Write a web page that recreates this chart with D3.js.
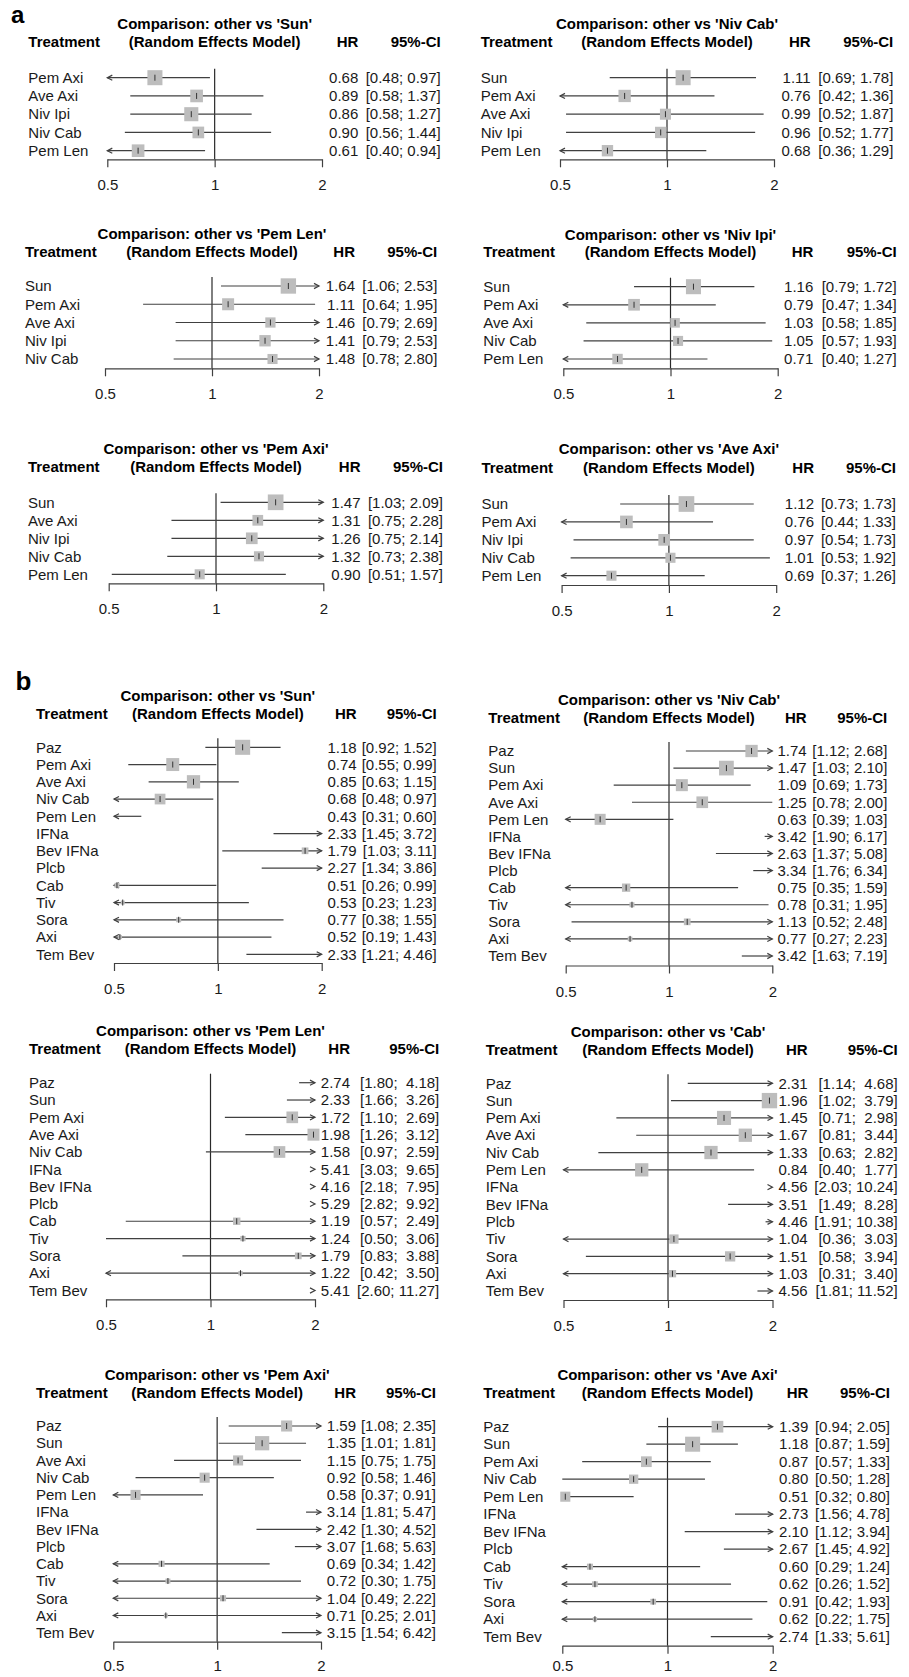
<!DOCTYPE html>
<html><head><meta charset="utf-8">
<script src="https://cdn.jsdelivr.net/npm/d3@7"></script>
<style>
body{margin:0;background:#fff}
svg{display:block;background:#fff}
text{font-family:"Liberation Sans",Arial,Helvetica,sans-serif;fill:#1a1a1a}
</style>
</head><body>
<svg id="c" width="909" height="1677"></svg>
<script>
// ---------------- DATA ----------------
const tickVals = [0.5, 1, 2];
const tickLabels = ["0.5", "1", "2"];

// Panel a
const a1Ref = "Sun";
const a1Treat = ["Pem Axi","Ave Axi","Niv Ipi","Niv Cab","Pem Len"];
const a1HR = [0.68,0.89,0.86,0.90,0.61];
const a1Lo = [0.48,0.58,0.58,0.56,0.40];
const a1Hi = [0.97,1.37,1.27,1.44,0.94];
const a1W  = [0.94,0.79,0.88,0.73,0.79];

const a2Ref = "Niv Cab";
const a2Treat = ["Sun","Pem Axi","Ave Axi","Niv Ipi","Pem Len"];
const a2HR = [1.11,0.76,0.99,0.96,0.68];
const a2Lo = [0.69,0.42,0.52,0.52,0.36];
const a2Hi = [1.78,1.36,1.87,1.77,1.29];
const a2W  = [0.94,0.77,0.69,0.71,0.71];

const a3Ref = "Pem Len";
const a3Treat = ["Sun","Pem Axi","Ave Axi","Niv Ipi","Niv Cab"];
const a3HR = [1.64,1.11,1.46,1.41,1.48];
const a3Lo = [1.06,0.64,0.79,0.79,0.78];
const a3Hi = [2.53,1.95,2.69,2.53,2.80];
const a3W  = [0.96,0.75,0.64,0.71,0.63];

const a4Ref = "Niv Ipi";
const a4Treat = ["Sun","Pem Axi","Ave Axi","Niv Cab","Pem Len"];
const a4HR = [1.16,0.79,1.03,1.05,0.71];
const a4Lo = [0.79,0.47,0.58,0.57,0.40];
const a4Hi = [1.72,1.34,1.85,1.93,1.27];
const a4W  = [0.94,0.73,0.60,0.63,0.65];

const a5Ref = "Pem Axi";
const a5Treat = ["Sun","Ave Axi","Niv Ipi","Niv Cab","Pem Len"];
const a5HR = [1.47,1.31,1.26,1.32,0.90];
const a5Lo = [1.03,0.75,0.75,0.73,0.51];
const a5Hi = [2.09,2.28,2.14,2.38,1.57];
const a5W  = [0.98,0.67,0.73,0.63,0.63];

const a6Ref = "Ave Axi";
const a6Treat = ["Sun","Pem Axi","Niv Ipi","Niv Cab","Pem Len"];
const a6HR = [1.12,0.76,0.97,1.01,0.69];
const a6Lo = [0.73,0.44,0.54,0.53,0.37];
const a6Hi = [1.73,1.33,1.73,1.92,1.26];
const a6W  = [0.98,0.79,0.73,0.63,0.63];

// Panel b
const b1Ref = "Sun";
const b1Treat = ["Paz","Pem Axi","Ave Axi","Niv Cab","Pem Len","IFNa","Bev IFNa","Plcb","Cab","Tiv","Sora","Axi","Tem Bev"];
const b1HR = [1.18,0.74,0.85,0.68,0.43,2.33,1.79,2.27,0.51,0.53,0.77,0.52,2.33];
const b1Lo = [0.92,0.55,0.63,0.48,0.31,1.45,1.03,1.34,0.26,0.23,0.38,0.19,1.21];
const b1Hi = [1.52,0.99,1.15,0.97,0.60,3.72,3.11,3.86,0.99,1.23,1.55,1.43,4.46];
const b1W  = [0.94,0.81,0.83,0.67,null,null,0.42,null,0.31,0.25,0.31,0.25,null];

const b2Ref = "Niv Cab";
const b2Treat = ["Paz","Sun","Pem Axi","Ave Axi","Pem Len","IFNa","Bev IFNa","Plcb","Cab","Tiv","Sora","Axi","Tem Bev"];
const b2HR = [1.74,1.47,1.09,1.25,0.63,3.42,2.63,3.34,0.75,0.78,1.13,0.77,3.42];
const b2Lo = [1.12,1.03,0.69,0.78,0.39,1.90,1.37,1.76,0.35,0.31,0.52,0.27,1.63];
const b2Hi = [2.68,2.10,1.73,2.00,1.03,6.17,5.08,6.34,1.59,1.95,2.48,2.23,7.19];
const b2W  = [0.77,0.92,0.75,0.73,0.69,null,null,null,0.52,0.31,0.42,0.29,null];

const b3Ref = "Pem Len";
const b3Treat = ["Paz","Sun","Pem Axi","Ave Axi","Niv Cab","IFNa","Bev IFNa","Plcb","Cab","Tiv","Sora","Axi","Tem Bev"];
const b3HR = [2.74,2.33,1.72,1.98,1.58,5.41,4.16,5.29,1.19,1.24,1.79,1.22,5.41];
const b3Lo = [1.80,1.66,1.10,1.26,0.97,3.03,2.18,2.82,0.57,0.50,0.83,0.42,2.60];
const b3Hi = [4.18,3.26,2.69,3.12,2.59,9.65,7.95,9.92,2.49,3.06,3.88,3.50,11.27];
const b3W  = [null,null,0.73,0.75,0.73,null,null,null,0.46,0.33,0.42,0.27,null];

const b4Ref = "Cab";
const b4Treat = ["Paz","Sun","Pem Axi","Ave Axi","Niv Cab","Pem Len","IFNa","Bev IFNa","Plcb","Tiv","Sora","Axi","Tem Bev"];
const b4HR = [2.31,1.96,1.45,1.67,1.33,0.84,4.56,3.51,4.46,1.04,1.51,1.03,4.56];
const b4Lo = [1.14,1.02,0.71,0.81,0.63,0.40,2.03,1.49,1.91,0.36,0.58,0.31,1.81];
const b4Hi = [4.68,3.79,2.98,3.44,2.82,1.77,10.24,8.28,10.38,3.03,3.94,3.40,11.52];
const b4W  = [null,0.96,0.88,0.83,0.83,0.83,null,null,null,0.58,0.64,0.46,null];

const b5Ref = "Pem Axi";
const b5Treat = ["Paz","Sun","Ave Axi","Niv Cab","Pem Len","IFNa","Bev IFNa","Plcb","Cab","Tiv","Sora","Axi","Tem Bev"];
const b5HR = [1.59,1.35,1.15,0.92,0.58,3.14,2.42,3.07,0.69,0.72,1.04,0.71,3.15];
const b5Lo = [1.08,1.01,0.75,0.58,0.37,1.81,1.30,1.68,0.34,0.30,0.49,0.25,1.54];
const b5Hi = [2.35,1.81,1.75,1.46,0.91,5.47,4.52,5.63,1.42,1.75,2.22,2.01,6.42];
const b5W  = [0.69,0.89,0.63,0.63,0.63,null,null,null,0.38,0.31,0.38,0.25,null];

const b6Ref = "Ave Axi";
const b6Treat = ["Paz","Sun","Pem Axi","Niv Cab","Pem Len","IFNa","Bev IFNa","Plcb","Cab","Tiv","Sora","Axi","Tem Bev"];
const b6HR = [1.39,1.18,0.87,0.80,0.51,2.73,2.10,2.67,0.60,0.62,0.91,0.62,2.74];
const b6Lo = [0.94,0.87,0.57,0.50,0.32,1.56,1.12,1.45,0.29,0.26,0.42,0.22,1.33];
const b6Hi = [2.05,1.59,1.33,1.28,0.80,4.78,3.94,4.92,1.24,1.52,1.93,1.75,5.61];
const b6W  = [0.73,0.94,0.67,0.58,0.63,null,null,null,0.38,0.36,0.36,0.27,null];

// ---------------- LAYOUT (pixel positions) ----------------
const layouts = {
  a1:{x05:107.3,x2:322,labelX:28.3,hrR:358.3,ciR:440.7,titleY:23.3,headerY:41.7,row0:77.7,rowN:150.7,axisY:159.3,pad:12.5},
  a2:{x05:560,x2:774,labelX:480.7,hrR:810.7,ciR:893.3,titleY:23.3,headerY:41.7,row0:77.7,rowN:150.7,axisY:159.3,pad:12.5},
  a3:{x05:105,x2:319,labelX:25,hrR:355,ciR:437.3,titleY:233.3,headerY:251.7,row0:286,rowN:359,axisY:368.3,pad:12.5},
  a4:{x05:563.3,x2:777.7,labelX:483.3,hrR:813.3,ciR:896.7,titleY:235,headerY:251.7,row0:286.7,rowN:359,axisY:368.3,pad:12.5},
  a5:{x05:108.7,x2:323.3,labelX:27.9,hrR:360.5,ciR:443,titleY:448.3,headerY:466.7,row0:502.3,rowN:574.3,axisY:583.3,pad:12.5},
  a6:{x05:561.6,x2:776.2,labelX:481.4,hrR:814,ciR:896,titleY:449,headerY:467.3,row0:504,rowN:575.7,axisY:585,pad:12.5},
  b1:{x05:114,x2:321.7,labelX:36,hrR:356.7,ciR:436.7,titleY:696,headerY:713.3,row0:747.3,rowN:954.3,axisY:963,pad:12.5},
  b2:{x05:565.7,x2:772.3,labelX:488.3,hrR:806.7,ciR:887.3,titleY:700,headerY:717.3,row0:751,rowN:956,axisY:965.5,pad:12.5},
  b3:{x05:106,x2:315,labelX:29,hrR:350,ciR:439.3,titleY:1030.7,headerY:1048.3,row0:1082.7,rowN:1290.5,axisY:1299.3,pad:12.5},
  b4:{x05:563.5,x2:772.5,labelX:485.7,hrR:807.7,ciR:897.7,titleY:1031.7,headerY:1049.3,row0:1083.3,rowN:1291,axisY:1300,pad:12.5},
  b5:{x05:113.3,x2:321,labelX:36,hrR:356,ciR:436,titleY:1375,headerY:1392.3,row0:1426,rowN:1632.7,axisY:1641.7,pad:10.5},
  b6:{x05:562.3,x2:772.7,labelX:483.3,hrR:808.3,ciR:890,titleY:1375,headerY:1392.3,row0:1426.7,rowN:1636.7,axisY:1645.7,pad:7}
};

const panels = [
  {ref:a1Ref,treat:a1Treat,hr:a1HR,lo:a1Lo,hi:a1Hi,w:a1W,L:layouts.a1},
  {ref:a2Ref,treat:a2Treat,hr:a2HR,lo:a2Lo,hi:a2Hi,w:a2W,L:layouts.a2},
  {ref:a3Ref,treat:a3Treat,hr:a3HR,lo:a3Lo,hi:a3Hi,w:a3W,L:layouts.a3},
  {ref:a4Ref,treat:a4Treat,hr:a4HR,lo:a4Lo,hi:a4Hi,w:a4W,L:layouts.a4},
  {ref:a5Ref,treat:a5Treat,hr:a5HR,lo:a5Lo,hi:a5Hi,w:a5W,L:layouts.a5},
  {ref:a6Ref,treat:a6Treat,hr:a6HR,lo:a6Lo,hi:a6Hi,w:a6W,L:layouts.a6},
  {ref:b1Ref,treat:b1Treat,hr:b1HR,lo:b1Lo,hi:b1Hi,w:b1W,L:layouts.b1},
  {ref:b2Ref,treat:b2Treat,hr:b2HR,lo:b2Lo,hi:b2Hi,w:b2W,L:layouts.b2},
  {ref:b3Ref,treat:b3Treat,hr:b3HR,lo:b3Lo,hi:b3Hi,w:b3W,L:layouts.b3},
  {ref:b4Ref,treat:b4Treat,hr:b4HR,lo:b4Lo,hi:b4Hi,w:b4W,L:layouts.b4},
  {ref:b5Ref,treat:b5Treat,hr:b5HR,lo:b5Lo,hi:b5Hi,w:b5W,L:layouts.b5},
  {ref:b6Ref,treat:b6Treat,hr:b6HR,lo:b6Lo,hi:b6Hi,w:b6W,L:layouts.b6}
];

// ---------------- DRAW ----------------
const svg = d3.select("#c");
svg.append("rect").attr("width",909).attr("height",1677).attr("fill","#fff");
const FS = 15;
const lineCol = "#404040";
const f2 = d3.format(".2f");
const sizeScale = d3.scaleLinear().domain([0,1]).range([0,16]);

svg.append("text").attr("x",11).attr("y",23).attr("font-size",24).attr("font-weight","bold").style("fill","#000").text("a");
svg.append("text").attr("x",15.5).attr("y",690).attr("font-size",26).attr("font-weight","bold").style("fill","#000").text("b");

function arrowHead(g, x, y, dir){
  const len = 5, hw = 2.6;
  g.append("path")
    .attr("d", `M${x - dir*len},${y-hw} L${x},${y} L${x - dir*len},${y+hw}`)
    .attr("fill","none").attr("stroke",lineCol).attr("stroke-width",1.2);
}

function drawPanel(p){
  const L = p.L;
  const g = svg.append("g");
  const x = d3.scaleLog().domain([tickVals[0], tickVals[tickVals.length-1]]).range([L.x05, L.x2]);
  const n = p.treat.length;
  const y = d3.scaleLinear().domain([0, n-1]).range([L.row0, L.rowN]);
  const xmin = x.domain()[0], xmax = x.domain()[1];
  const xc = x(1);

  // headers
  g.append("text").attr("x",xc).attr("y",L.titleY).attr("dy","0.35em").attr("text-anchor","middle")
    .attr("font-size",FS).attr("font-weight","bold").style("fill","#000")
    .text(`Comparison: other vs '${p.ref}'`);
  g.append("text").attr("x",xc).attr("y",L.headerY).attr("dy","0.35em").attr("text-anchor","middle")
    .attr("font-size",FS).attr("font-weight","bold").style("fill","#000")
    .text("(Random Effects Model)");
  g.append("text").attr("x",L.labelX).attr("y",L.headerY).attr("dy","0.35em")
    .attr("font-size",FS).attr("font-weight","bold").style("fill","#000").text("Treatment");
  g.append("text").attr("x",L.hrR).attr("y",L.headerY).attr("dy","0.35em").attr("text-anchor","end")
    .attr("font-size",FS).attr("font-weight","bold").style("fill","#000").text("HR");
  g.append("text").attr("x",L.ciR).attr("y",L.headerY).attr("dy","0.35em").attr("text-anchor","end")
    .attr("font-size",FS).attr("font-weight","bold").style("fill","#000").text("95%-CI");

  // reference line
  g.append("line").attr("x1",xc).attr("x2",xc).attr("y1",L.row0-9).attr("y2",L.axisY)
    .attr("stroke","#2a2a2a").attr("stroke-width",1.2);

  // axis
  const axis = d3.axisBottom(x).tickValues(tickVals).tickFormat((d,i)=>tickLabels[i])
    .tickSizeInner(8).tickSizeOuter(0).tickPadding(L.pad);
  const axg = g.append("g").attr("transform",`translate(0,${L.axisY})`).call(axis);
  axg.attr("font-family",null).attr("font-size",null);
  axg.select(".domain").attr("stroke",lineCol).attr("stroke-width",1.2);
  axg.selectAll(".tick line").attr("stroke",lineCol).attr("stroke-width",1.2);
  axg.selectAll(".tick text").attr("font-size",FS).style("fill","#1a1a1a").attr("fill",null);

  const pad10 = p.hi.some(v=>v>=10);
  const fmtHi = v => (pad10 && v<10 ? " " : "") + f2(v);

  p.treat.forEach((t,i)=>{
    const yy = y(i);
    const lo = p.lo[i], hi = p.hi[i], hr = p.hr[i], w = p.w[i];
    g.append("text").attr("x",L.labelX).attr("y",yy).attr("dy","0.35em").attr("font-size",FS).text(t);
    g.append("text").attr("x",L.hrR).attr("y",yy).attr("dy","0.35em").attr("text-anchor","end")
      .attr("font-size",FS).text(f2(hr));
    g.append("text").attr("x",L.ciR).attr("y",yy).attr("dy","0.35em").attr("text-anchor","end")
      .attr("font-size",FS).attr("xml:space","preserve").style("white-space","pre")
      .text(`[${f2(lo)}; ${fmtHi(hi)}]`);

    const a = Math.max(lo, xmin), b = Math.min(hi, xmax);
    if (a < b){
      g.append("line").attr("x1",x(a)).attr("x2",x(b)).attr("y1",yy).attr("y2",yy)
        .attr("stroke",lineCol).attr("stroke-width",1.2);
    }
    if (lo < xmin) arrowHead(g, x(xmin), yy, -1);
    if (hi > xmax) arrowHead(g, x(xmax), yy, 1);

    if (w != null && hr >= xmin && hr <= xmax){
      const s = sizeScale(w);
      g.append("rect").attr("x",x(hr)-s/2).attr("y",yy-s/2).attr("width",s).attr("height",s)
        .attr("fill","#bdbdbd");
      g.append("line").attr("x1",x(hr)).attr("x2",x(hr)).attr("y1",yy-3).attr("y2",yy+3)
        .attr("stroke","#333").attr("stroke-width",1);
    }
  });
}

panels.forEach(drawPanel);
</script>
</body></html>
